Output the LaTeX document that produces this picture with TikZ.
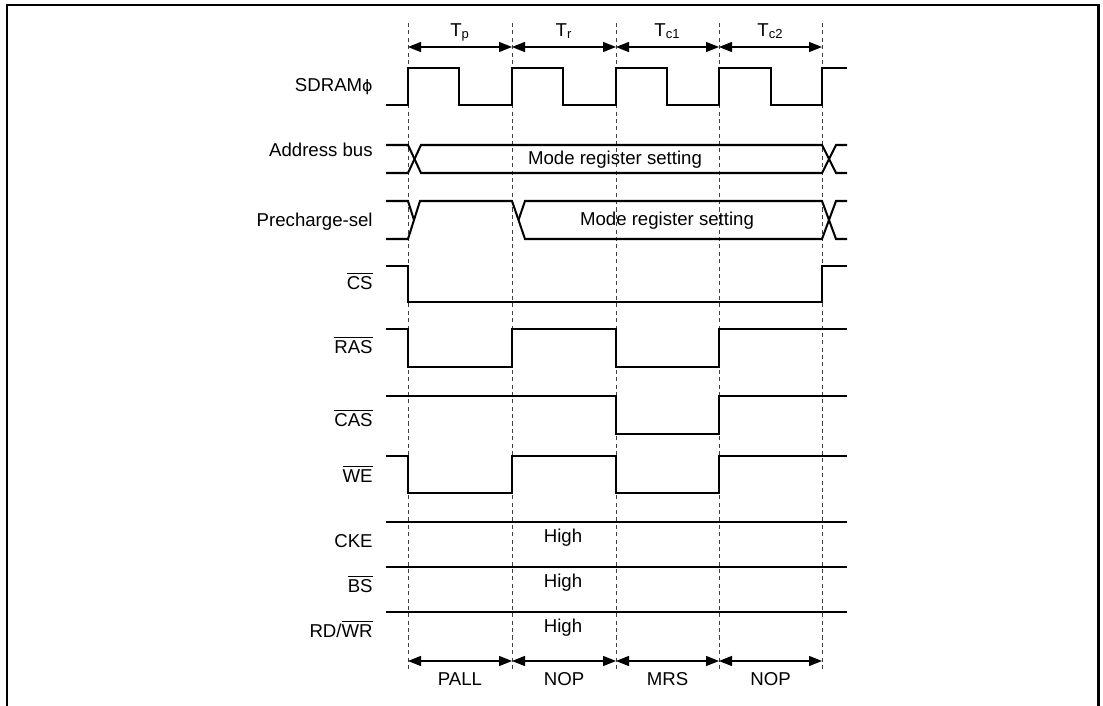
\documentclass[tikz,border=0pt]{standalone}
\usepackage{fontspec}
\setmainfont{Liberation Sans}
\newfontfamily\symfont{DejaVu Sans}
\usetikzlibrary{arrows.meta}
\newcommand{\ovl}[1]{$\overline{\mbox{#1}}$}
\tikzset{sig/.style={
    line width=1.15pt,
    line join=miter
  },
  gridline/.style={
    line width=0.5pt,
    black!75,
    dash pattern=on 2.3pt off 1.9pt
  },
  dimline/.style={
    line width=0.7pt,
    {Triangle[length=0.26cm,width=0.2cm]}-{Triangle[length=0.26cm,width=0.2cm]}
  },
  siglabel/.style={anchor=base east,inner sep=0pt},
  txt/.style={anchor=base,inner sep=0pt},
}

\begin{document}
\begin{tikzpicture}[x=0.02cm,y=-0.02cm,font=\fontsize{10.6}{12}\selectfont]
  \useasboundingbox (0,0) rectangle (1103,706);
  % frame
  \draw[line width=1.7pt] (7,706) -- (7,5) -- (1098,5) -- (1098,706);

  % cycle boundaries
  \foreach \x [count=\i from 0] in {408,512,616,719,822} {
    \draw[gridline] (\x,23) -- (\x,672);
    \coordinate (top\i) at (\x,47);
    \coordinate (bot\i) at (\x,661);
  }
  \foreach \a/\b/\t in {0/1/T\textsubscript{p},1/2/T\textsubscript{r},2/3/T\textsubscript{c1},3/4/T\textsubscript{c2}}
    \draw[dimline] (top\a) -- (top\b) node[txt,midway,yshift=0.22cm] (cyc\a) {\t};
  \foreach \a/\b/\t in {0/1/PALL,1/2/NOP,2/3/MRS,3/4/NOP}
    \draw[dimline] (bot\a) -- (bot\b) node[txt,midway,yshift=-0.5cm] (cmd\a) {\t};

  % signal names
  \node[siglabel] (lclk) at (373,92) {SDRAM{\symfont\small ϕ}};
  \node[siglabel] (laddr) at (373,156) {Address bus};
  \node[siglabel] (lpre) at (373,227) {Precharge-sel};
  \node[siglabel] (lcs) at (373,289) {\ovl{CS}};
  \node[siglabel] (lras) at (373,353) {\ovl{RAS}};
  \node[siglabel] (lcas) at (373,426) {\ovl{CAS}};
  \node[siglabel] (lwe) at (373,482) {\ovl{WE}};
  \node[siglabel] (lcke) at (373,547) {CKE};
  \node[siglabel] (lbs) at (373,592) {\ovl{BS}};
  \node[siglabel] (lrdwr) at (373,637) {RD/\ovl{WR}};

  % waveforms
  \draw[sig] (386,105) -- (408,105) -- (408,68) -- (459,68) -- (459,105) -- (512,105)
    -- (512,68) -- (563,68) -- (563,105) -- (616,105) -- (616,68) -- (667,68) -- (667,105)
    -- (719,105) -- (719,68) -- (771,68) -- (771,105) -- (822,105) -- (822,68) -- (847,68);

  \draw[sig] (386,145) -- (408,145) -- (421,173) -- (822,173) -- (836,145) -- (847,145);
  \draw[sig] (386,173) -- (408,173) -- (421,145) -- (822,145) -- (836,173) -- (847,173);
  \node[txt] (addrval) at (615,165) {Mode register setting};

  \draw[sig] (386,239) -- (408,239) -- (420,201) -- (512,201) -- (525,239) -- (822,239)
    -- (836,201) -- (847,201);
  \draw[sig] (386,201) -- (408,201) -- (414,220);
  \draw[sig] (518.5,220) -- (525,201) -- (822,201) -- (836,239) -- (847,239);
  \node[txt] (preval) at (667,226) {Mode register setting};

  \draw[sig] (386,266) -- (408,266) -- (408,302) -- (822,302) -- (822,266) -- (847,266);
  \draw[sig] (386,329) -- (408,329) -- (408,367) -- (512,367) -- (512,329) -- (616,329)
    -- (616,367) -- (719,367) -- (719,329) -- (847,329);
  \draw[sig] (386,396) -- (616,396) -- (616,434) -- (719,434) -- (719,396) -- (847,396);
  \draw[sig] (386,456) -- (408,456) -- (408,493) -- (512,493) -- (512,456) -- (616,456)
    -- (616,493) -- (719,493) -- (719,456) -- (847,456);

  \draw[sig] (386,522) -- (847,522);
  \draw[sig] (386,567) -- (847,567);
  \draw[sig] (386,612) -- (847,612);
  \node[txt] (ckeval) at (563,542) {High};
  \node[txt] (bsval) at (563,587) {High};
  \node[txt] (rdval) at (563,632) {High};
\end{tikzpicture}
\end{document}
